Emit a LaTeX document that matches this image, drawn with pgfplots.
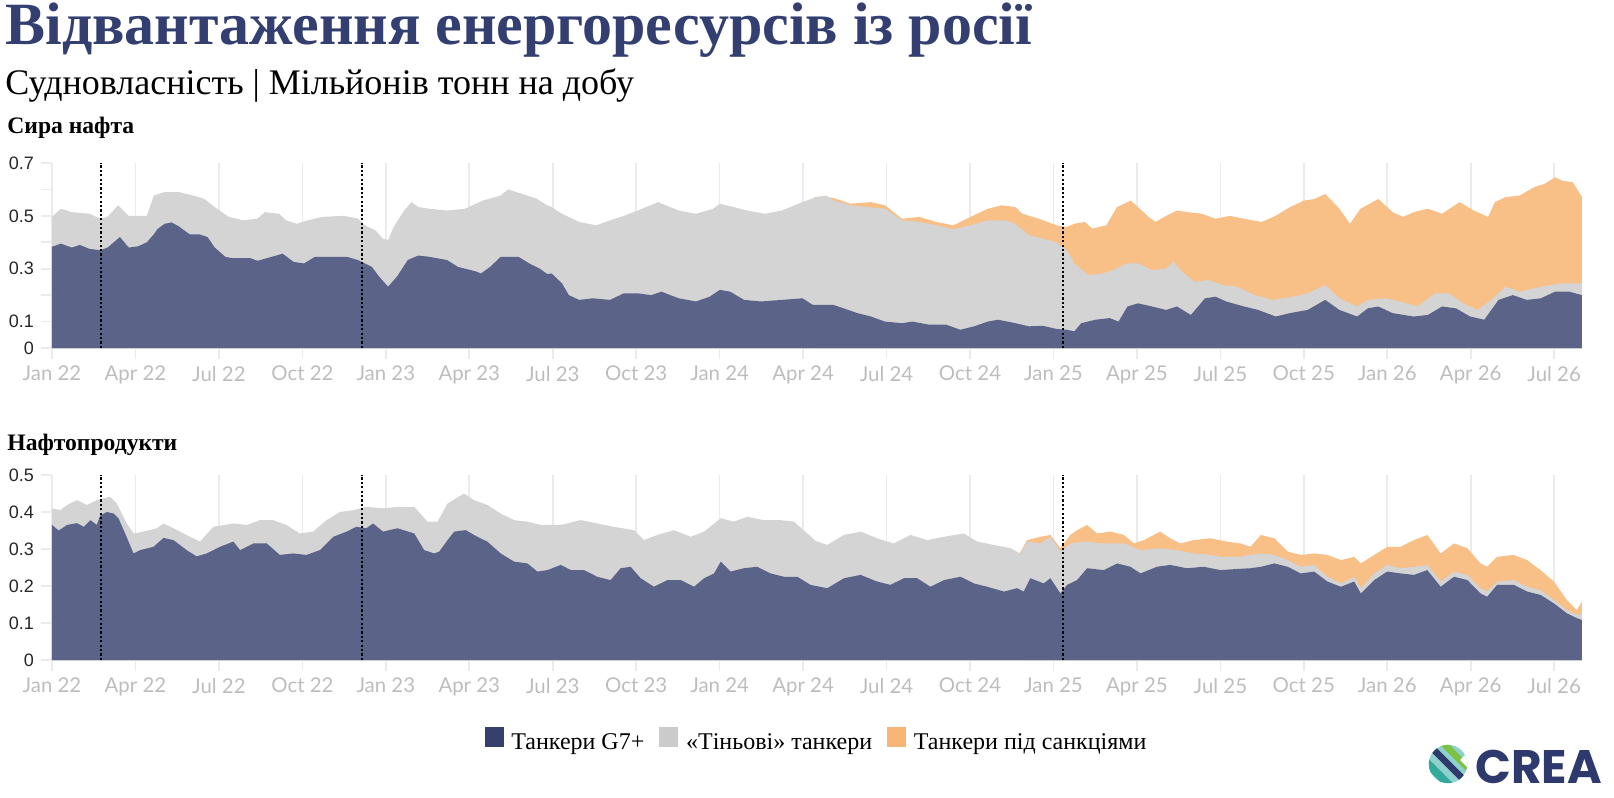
\documentclass[border=0pt]{standalone}
\usepackage{fontspec}
\setmainfont{Liberation Serif}
\newfontfamily\lato{Lato}
\newfontfamily\arialf{Liberation Sans}
\newfontfamily\poppins{Poppins}
\usepackage{pgfplots}
\pgfplotsset{compat=1.18}
\definecolor{titleblue}{HTML}{333F70}
\definecolor{gseven}{HTML}{5B6488}
\definecolor{shadow}{HTML}{D4D4D4}
\definecolor{sanc}{HTML}{F8BF87}
\definecolor{leggseven}{HTML}{36406F}
\definecolor{legshadow}{HTML}{CBCBCB}
\definecolor{legsanc}{HTML}{F7B676}
\definecolor{gridgray}{HTML}{EBEBEB}
\definecolor{axisgray}{HTML}{E2E2E2}
\definecolor{tickgray}{HTML}{BDBDBD}
\definecolor{logonavy}{HTML}{2E3A6E}
\definecolor{logogreen}{HTML}{7DC242}
\definecolor{logoteal}{HTML}{33A99B}
\definecolor{logolight}{HTML}{8DD0CC}
\pgfplotsset{crea/.style={
  scale only axis, width=765pt, height=92.5pt,
  xmin=0, xmax=55, ymin=0,
  axis x line=bottom, axis y line=left,
  axis line style={-},
  x axis line style={draw=axisgray, line width=1pt},
  y axis line style={draw=none},
  xtick={0,3,...,54},
  xticklabels={Jan 22,Apr 22,Jul 22,Oct 22,Jan 23,Apr 23,Jul 23,Oct 23,Jan 24,Apr 24,Jul 24,Oct 24,Jan 25,Apr 25,Jul 25,Oct 25,Jan 26,Apr 26,Jul 26},
  xmajorgrids, major grid style={draw=gridgray, line width=0.8pt},
  tick align=outside, major tick length=5.5pt,
  tick style={draw=gridgray, line width=0.8pt},
  xticklabel style={font=\lato\fontsize{10.2pt}{12pt}\selectfont, text=tickgray},
  yticklabel style={font=\arialf\fontsize{9pt}{10pt}\selectfont, text=black!85},
  dotline/.style={black, line width=1.1pt, dash pattern=on 1.1pt off 1.1pt},
}}
\begin{document}
\begin{tikzpicture}
\useasboundingbox (0,0) rectangle (807pt,-399pt);
% Titles
\node[anchor=base west, inner sep=0pt, text=titleblue, font=\bfseries\fontsize{30pt}{33pt}\selectfont] at (2.5pt,-22pt) {Відвантаження енергоресурсів із росії};
\node[anchor=base west, inner sep=0pt, font=\fontsize{18pt}{21pt}\selectfont] at (2.5pt,-47pt) {Судновласність | Мільйонів тонн на добу};
\node[anchor=base west, inner sep=0pt, font=\bfseries\fontsize{11.8pt}{13pt}\selectfont] at (3.5pt,-66.5pt) {Сира нафта};
\node[anchor=base west, inner sep=0pt, font=\bfseries\fontsize{11.8pt}{13pt}\selectfont] at (3.5pt,-225pt) {Нафтопродукти};

% ---------- Top panel: crude oil ----------
\begin{axis}[crea, at={(26pt,-174pt)}, anchor=south west, ymax=0.7,
  ytick={0,0.1,0.2,0.3,0.4,0.5,0.6,0.7},
  yticklabels={0,0.1,,0.3,,0.5,,0.7}]
% sanctioned (total)
\addplot[fill=sanc, draw=none, forget plot] coordinates {
(27.4,0.571) (27.72,0.573) (28.09,0.568) (28.7,0.546) (29.44,0.552) (29.94,0.54) (30.56,0.489) (31.17,0.496) (31.79,0.477) (32.4,0.464) (33.02,0.496) (33.64,0.527) (34.14,0.54) (34.63,0.533) (34.88,0.508) (35.49,0.489) (36.11,0.464) (36.48,0.458) (36.75,0.47) (37.13,0.477) (37.39,0.452) (37.9,0.464) (38.28,0.533) (38.78,0.558) (39.04,0.533) (39.42,0.496) (39.67,0.477) (40.05,0.50) (40.44,0.52) (40.82,0.514) (41.33,0.508) (41.83,0.489) (42.34,0.50) (42.85,0.489) (43.49,0.477) (43.99,0.50) (44.5,0.533) (45.01,0.558) (45.39,0.564) (45.77,0.583) (46.28,0.527) (46.66,0.47) (47.04,0.527) (47.68,0.564) (48.19,0.514) (48.57,0.496) (48.95,0.514) (49.46,0.527) (49.97,0.508) (50.6,0.552) (51.11,0.52) (51.62,0.496) (51.87,0.552) (52.25,0.571) (52.76,0.577) (53.27,0.608) (53.65,0.621) (54.03,0.646) (54.29,0.633) (54.67,0.627) (55.0,0.571)
} \closedcycle;
% shadow (G7+ + shadow)
\addplot[fill=shadow, draw=none, forget plot] coordinates {
(0,0.496) (0.32,0.527) (0.71,0.514) (1.35,0.508) (1.74,0.489) (1.99,0.496) (2.38,0.54) (2.76,0.50) (3.41,0.50) (3.66,0.577) (4.05,0.59) (4.56,0.59) (5.08,0.577) (5.46,0.565) (5.85,0.533) (6.36,0.496) (6.88,0.483) (7.39,0.49) (7.65,0.514) (8.16,0.508) (8.42,0.483) (8.8,0.47) (9.19,0.483) (9.7,0.496) (10.48,0.50) (10.99,0.49) (11.25,0.464) (11.63,0.445) (11.89,0.414) (12.08,0.408) (12.28,0.458) (12.66,0.52) (12.92,0.552) (13.17,0.533) (13.56,0.527) (14.2,0.52) (14.85,0.527) (15.49,0.558) (16.13,0.577) (16.39,0.60) (16.9,0.583) (17.42,0.565) (17.8,0.54) (17.96,0.533) (18.33,0.508) (18.95,0.477) (19.57,0.464) (20.06,0.483) (20.56,0.50) (21.05,0.52) (21.79,0.552) (22.53,0.52) (23.15,0.508) (23.77,0.527) (24.01,0.546) (24.51,0.533) (25.0,0.52) (25.62,0.508) (26.23,0.52) (26.98,0.552) (27.47,0.571) (27.84,0.577) (28.09,0.558) (28.7,0.54) (29.32,0.533) (29.94,0.527) (30.56,0.483) (31.17,0.477) (31.79,0.464) (32.4,0.45) (33.02,0.464) (33.64,0.483) (34.26,0.483) (34.63,0.47) (35.12,0.427) (35.62,0.414) (36.11,0.40) (36.48,0.37) (36.75,0.32) (37.26,0.276) (37.77,0.282) (38.15,0.295) (38.66,0.32) (39.04,0.32) (39.55,0.295) (40.05,0.30) (40.31,0.326) (40.69,0.282) (41.07,0.25) (41.58,0.257) (42.09,0.238) (42.6,0.232) (43.23,0.20) (43.87,0.182) (44.63,0.194) (45.14,0.207) (45.77,0.238) (46.28,0.188) (46.92,0.157) (47.3,0.182) (47.93,0.188) (48.44,0.176) (49.08,0.157) (49.71,0.207) (50.22,0.207) (50.73,0.169) (51.24,0.144) (51.74,0.182) (52.25,0.232) (52.76,0.213) (53.52,0.232) (54.29,0.245) (55.0,0.245)
} \closedcycle;
% G7+
\addplot[fill=gseven, draw=none, forget plot] coordinates {
(0,0.383) (0.32,0.395) (0.71,0.38) (1.0,0.39) (1.35,0.375) (1.74,0.37) (2.0,0.38) (2.44,0.42) (2.76,0.38) (3.1,0.385) (3.41,0.40) (3.66,0.43) (3.79,0.45) (4.05,0.47) (4.3,0.475) (4.56,0.46) (4.95,0.43) (5.3,0.43) (5.59,0.42) (5.85,0.38) (6.23,0.345) (6.49,0.34) (7.13,0.34) (7.39,0.33) (7.9,0.345) (8.29,0.357) (8.68,0.326) (9.06,0.32) (9.45,0.345) (10.0,0.345) (10.6,0.345) (10.99,0.333) (11.25,0.32) (11.5,0.307) (11.76,0.27) (12.08,0.232) (12.4,0.27) (12.79,0.333) (13.17,0.35) (13.56,0.345) (14.2,0.333) (14.59,0.307) (15.23,0.29) (15.42,0.282) (15.75,0.307) (16.13,0.345) (16.77,0.345) (17.16,0.32) (17.54,0.30) (17.8,0.28) (17.96,0.282) (18.33,0.245) (18.58,0.20) (18.95,0.182) (19.44,0.188) (20.06,0.182) (20.56,0.207) (21.05,0.207) (21.54,0.20) (21.91,0.213) (22.53,0.188) (23.15,0.176) (23.64,0.194) (24.01,0.22) (24.38,0.213) (24.88,0.182) (25.49,0.176) (26.23,0.182) (26.98,0.188) (27.35,0.163) (28.09,0.163) (28.46,0.15) (28.95,0.132) (29.44,0.119) (29.94,0.10) (30.56,0.094) (30.93,0.10) (31.54,0.088) (32.15,0.088) (32.65,0.069) (33.15,0.082) (33.64,0.10) (34.01,0.107) (34.63,0.094) (35.12,0.082) (35.62,0.084) (36.11,0.072) (36.48,0.069) (36.75,0.063) (37.0,0.094) (37.51,0.107) (38.02,0.113) (38.34,0.10) (38.66,0.157) (39.04,0.169) (39.55,0.157) (40.05,0.144) (40.44,0.157) (40.94,0.125) (41.45,0.188) (41.83,0.194) (42.21,0.176) (42.85,0.157) (43.36,0.144) (43.99,0.119) (44.5,0.132) (45.14,0.144) (45.77,0.182) (46.28,0.144) (46.92,0.119) (47.3,0.15) (47.68,0.157) (48.19,0.132) (48.95,0.119) (49.46,0.125) (49.97,0.157) (50.47,0.15) (50.98,0.119) (51.49,0.107) (52.0,0.182) (52.51,0.20) (53.02,0.182) (53.52,0.188) (54.03,0.213) (54.54,0.213) (55.0,0.20)
} \closedcycle;
\addplot[dotline, forget plot] coordinates {(1.77,0) (1.77,0.7)};
\addplot[dotline, forget plot] coordinates {(11.13,0) (11.13,0.7)};
\addplot[dotline, forget plot] coordinates {(36.34,0) (36.34,0.7)};
\end{axis}

% ---------- Bottom panel: oil products ----------
\begin{axis}[crea, at={(26pt,-330pt)}, anchor=south west, ymax=0.5,
  ytick={0,0.1,0.2,0.3,0.4,0.5},
  yticklabels={0,0.1,0.2,0.3,0.4,0.5},
  legend style={at={(0.500,-0.438)}, anchor=center, draw=none, fill=none,
    inner sep=0pt, font=\fontsize{12pt}{14pt}\selectfont,
    nodes={inner sep=1.5pt},
    /tikz/every odd column/.append style={column sep=2.5pt},
    /tikz/every even column/.append style={column sep=6pt}},
  legend columns=3, legend cell align=left,
  legend image code/.code={\fill[#1] (0pt,-1.5pt) rectangle (9pt,8pt);}]
\addplot[fill=sanc, draw=none, forget plot] coordinates {
(34.8,0.29) (35.05,0.324) (35.53,0.333) (35.89,0.338) (36.25,0.302) (36.61,0.338) (36.85,0.351) (37.21,0.365) (37.57,0.342) (38.05,0.347) (38.53,0.338) (38.89,0.315) (39.25,0.324) (39.84,0.347) (40.2,0.329) (40.56,0.315) (41.04,0.324) (41.64,0.329) (42.24,0.32) (42.72,0.315) (43.08,0.306) (43.46,0.338) (43.94,0.329) (44.42,0.293) (44.89,0.284) (45.37,0.288) (45.85,0.284) (46.33,0.27) (46.81,0.279) (47.05,0.261) (47.53,0.284) (48.0,0.306) (48.48,0.306) (48.96,0.324) (49.44,0.338) (49.92,0.288) (50.4,0.315) (50.88,0.302) (51.35,0.261) (51.59,0.252) (51.95,0.279) (52.55,0.284) (53.03,0.27) (53.51,0.243) (53.99,0.212) (54.46,0.162) (54.82,0.135) (55.0,0.158)
} \closedcycle;
\addplot[fill=shadow, draw=none, forget plot] coordinates {
(0,0.41) (0.3,0.405) (0.54,0.419) (0.9,0.432) (1.26,0.419) (1.61,0.432) (1.85,0.437) (2.09,0.441) (2.33,0.423) (2.69,0.369) (2.93,0.342) (3.29,0.347) (3.77,0.356) (4.01,0.369) (4.37,0.356) (4.96,0.333) (5.32,0.32) (5.8,0.36) (6.52,0.369) (7.0,0.365) (7.48,0.378) (7.95,0.378) (8.43,0.365) (8.91,0.342) (9.39,0.347) (9.87,0.378) (10.35,0.40) (10.83,0.405) (11.3,0.414) (11.9,0.41) (12.5,0.414) (13.02,0.414) (13.5,0.374) (13.86,0.374) (14.22,0.423) (14.81,0.45) (15.17,0.432) (15.65,0.419) (16.13,0.396) (16.61,0.378) (17.09,0.374) (17.57,0.365) (18.29,0.365) (19.0,0.378) (19.6,0.369) (20.2,0.36) (20.92,0.351) (21.28,0.324) (21.76,0.338) (22.36,0.351) (22.96,0.333) (23.44,0.347) (24.04,0.383) (24.51,0.374) (24.99,0.387) (25.59,0.378) (26.19,0.378) (26.67,0.374) (27.15,0.342) (27.45,0.322) (27.87,0.311) (28.47,0.338) (29.07,0.347) (29.66,0.329) (30.26,0.315) (30.86,0.338) (31.46,0.324) (32.06,0.333) (32.78,0.342) (33.26,0.32) (33.86,0.311) (34.46,0.302) (34.81,0.288) (35.05,0.32) (35.53,0.315) (35.89,0.333) (36.25,0.293) (36.61,0.315) (37.09,0.32) (37.81,0.315) (38.53,0.315) (39.13,0.297) (39.84,0.302) (40.44,0.297) (41.04,0.288) (41.64,0.284) (42.12,0.278) (42.72,0.279) (43.08,0.284) (43.46,0.288) (43.94,0.284) (44.42,0.27) (44.89,0.252) (45.37,0.257) (45.85,0.225) (46.33,0.207) (46.81,0.225) (47.05,0.194) (47.53,0.234) (48.0,0.257) (48.48,0.248) (48.96,0.252) (49.44,0.257) (49.92,0.212) (50.4,0.239) (50.88,0.23) (51.35,0.194) (51.59,0.185) (51.95,0.212) (52.55,0.216) (53.03,0.198) (53.51,0.189) (53.99,0.162) (54.46,0.135) (54.82,0.122) (55.0,0.126)
} \closedcycle;
\addplot[fill=gseven, draw=none, forget plot] coordinates {
(0,0.365) (0.24,0.35) (0.54,0.365) (0.9,0.37) (1.14,0.36) (1.38,0.378) (1.61,0.365) (1.73,0.39) (1.97,0.40) (2.21,0.396) (2.39,0.383) (2.63,0.342) (2.93,0.288) (3.17,0.297) (3.65,0.306) (4.01,0.33) (4.37,0.324) (4.84,0.297) (5.2,0.28) (5.56,0.288) (6.04,0.306) (6.52,0.32) (6.76,0.297) (7.24,0.315) (7.72,0.315) (8.19,0.284) (8.67,0.288) (9.15,0.284) (9.63,0.297) (10.11,0.333) (10.59,0.347) (10.94,0.36) (11.3,0.356) (11.54,0.369) (11.9,0.347) (12.42,0.356) (13.02,0.342) (13.38,0.297) (13.74,0.288) (13.92,0.293) (14.22,0.324) (14.46,0.347) (14.87,0.351) (15.29,0.333) (15.65,0.32) (16.13,0.288) (16.61,0.266) (17.09,0.261) (17.45,0.239) (17.81,0.243) (18.29,0.257) (18.65,0.243) (19.13,0.243) (19.6,0.225) (20.08,0.216) (20.44,0.248) (20.8,0.252) (21.16,0.221) (21.64,0.198) (22.12,0.216) (22.6,0.216) (23.08,0.198) (23.44,0.221) (23.8,0.234) (24.04,0.266) (24.4,0.239) (24.87,0.248) (25.35,0.252) (25.83,0.234) (26.31,0.225) (26.79,0.225) (27.27,0.203) (27.87,0.194) (28.47,0.221) (29.07,0.23) (29.66,0.212) (30.14,0.203) (30.62,0.221) (31.1,0.221) (31.58,0.198) (32.06,0.216) (32.66,0.225) (33.14,0.207) (33.62,0.198) (34.22,0.185) (34.69,0.194) (34.93,0.185) (35.17,0.221) (35.65,0.207) (35.89,0.221) (36.25,0.18) (36.49,0.203) (36.85,0.216) (37.21,0.248) (37.81,0.243) (38.29,0.261) (38.77,0.252) (39.13,0.234) (39.72,0.252) (40.2,0.257) (40.8,0.248) (41.4,0.252) (42.0,0.243) (42.6,0.246) (43.08,0.248) (43.46,0.252) (43.94,0.261) (44.42,0.252) (44.89,0.234) (45.37,0.239) (45.85,0.212) (46.33,0.198) (46.81,0.212) (47.05,0.18) (47.53,0.216) (48.0,0.239) (48.48,0.234) (48.96,0.23) (49.44,0.243) (49.92,0.198) (50.4,0.225) (50.88,0.216) (51.35,0.18) (51.59,0.171) (51.95,0.203) (52.55,0.203) (53.03,0.185) (53.51,0.176) (53.99,0.153) (54.46,0.126) (54.82,0.113) (55.0,0.108)
} \closedcycle;
\addplot[dotline, forget plot] coordinates {(1.77,0) (1.77,0.5)};
\addplot[dotline, forget plot] coordinates {(11.13,0) (11.13,0.5)};
\addplot[dotline, forget plot] coordinates {(36.34,0) (36.34,0.5)};
\addlegendimage{leggseven}
\addlegendentry{Танкери G7+}
\addlegendimage{legshadow}
\addlegendentry{«Тіньові» танкери}
\addlegendimage{legsanc}
\addlegendentry{Танкери під санкціями}
\end{axis}

% ---------- CREA logo ----------
\begin{scope}
\clip (724pt,-382pt) circle (9.6pt);
\fill[logolight] (714pt,-392pt) rectangle (734pt,-372pt);
\draw[logoteal, line width=4pt] (712pt,-380pt) -- (726pt,-394pt);
\draw[logonavy, line width=3.2pt] (716pt,-374pt) -- (733pt,-391pt);
\draw[logogreen, line width=3.2pt] (720pt,-370pt) -- (737pt,-387pt);
\draw[logogreen, line width=3pt] (725pt,-366pt) -- (740pt,-381pt);
\fill[white] (730pt,-380pt) -- (736pt,-374pt) -- (736pt,-386pt) -- cycle;
\draw[logonavy, line width=3pt] (713pt,-376pt) -- (720pt,-369pt);
\end{scope}
\node[anchor=base west, inner sep=0pt, text=logonavy, font=\poppins\bfseries\fontsize{23.5pt}{26pt}\selectfont] at (737.5pt,-391.5pt) {CREA};
\end{tikzpicture}
\end{document}
